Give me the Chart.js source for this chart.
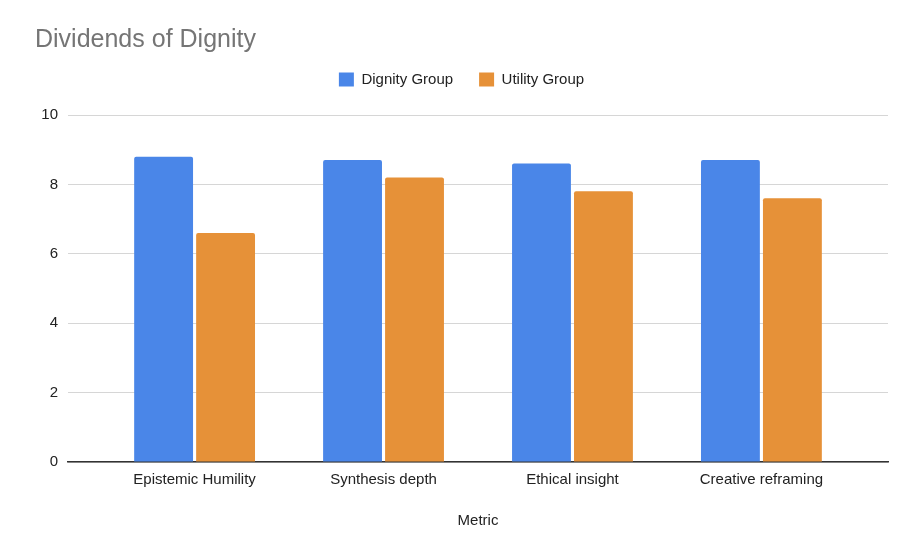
<!DOCTYPE html>
<html>
<head>
<meta charset="utf-8">
<script src="https://cdn.jsdelivr.net/npm/chart.js@4.4.0/dist/chart.umd.min.js"></script>
<style>
  html, body { margin: 0; padding: 0; background: #fff; }
  #wrap { width: 922px; height: 547px; }
</style>
</head>
<body>
<div id="wrap"><canvas id="chart"></canvas></div>
<script>
const metrics = ["Epistemic Humility", "Synthesis depth", "Ethical insight", "Creative reframing"];
const dignity = [8.8, 8.7, 8.6, 8.7];
const utility = [6.6, 8.2, 7.8, 7.6];
const yTicks = [0, 2, 4, 6, 8, 10];

const fontFamily = "'Liberation Sans', Arial, sans-serif";

// leave some room under the legend, like the sheets chart does
const legendGap = {
  id: "legendGap",
  beforeInit(chart) {
    const fit = chart.legend.fit;
    chart.legend.fit = function () {
      fit.call(this);
      this.height += 18;
    };
  },
};

new Chart(document.getElementById("chart"), {
  type: "bar",
  data: {
    datasets: [
      {
        label: "Dignity Group",
        data: dignity.map((v, i) => ({ x: i, y: v })),
        backgroundColor: "#4a86e8",
        borderRadius: 2,
        borderSkipped: "bottom",
        categoryPercentage: 0.656,
        barPercentage: 0.95,
      },
      {
        label: "Utility Group",
        data: utility.map((v, i) => ({ x: i, y: v })),
        backgroundColor: "#e69138",
        borderRadius: 2,
        borderSkipped: "bottom",
        categoryPercentage: 0.656,
        barPercentage: 0.95,
      },
    ],
  },
  options: {
    responsive: true,
    maintainAspectRatio: false,
    animation: false,
    layout: {
      padding: { left: 35, right: 34, top: 0, bottom: 13 },
    },
    plugins: {
      title: {
        display: true,
        text: "Dividends of Dignity",
        align: "start",
        color: "#757575",
        font: { family: fontFamily, size: 25, weight: "normal" },
        padding: { top: 25, bottom: -9 },
      },
      legend: {
        labels: {
          boxWidth: 15,
          boxHeight: 14,
          padding: 26,
          color: "#222",
          font: { family: fontFamily, size: 15 },
        },
      },
      tooltip: { enabled: false },
    },
    scales: {
      x: {
        type: "linear",
        offset: false,
        min: -0.67,
        max: 3.67,
        grid: { display: false, drawTicks: false },
        border: { display: true, color: "#333", width: 1.5 },
        ticks: {
          stepSize: 1,
          includeBounds: false,
          padding: 9,
          color: "#222",
          font: { family: fontFamily, size: 15 },
          callback: (value) => metrics[value],
        },
        title: {
          display: true,
          text: "Metric",
          color: "#222",
          font: { family: fontFamily, size: 15 },
          padding: { top: 14, bottom: 4 },
        },
      },
      y: {
        min: 0,
        max: 10,
        afterBuildTicks: (scale) => {
          scale.ticks = yTicks.map((v) => ({ value: v }));
        },
        afterFit: (scale) => {
          scale.width = 33;
        },
        grid: { color: "#d6d6d6", drawTicks: false },
        border: { display: false },
        ticks: {
          padding: 10,
          color: "#222",
          font: { family: fontFamily, size: 15 },
        },
      },
    },
  },
  plugins: [legendGap],
});
</script>
</body>
</html>
